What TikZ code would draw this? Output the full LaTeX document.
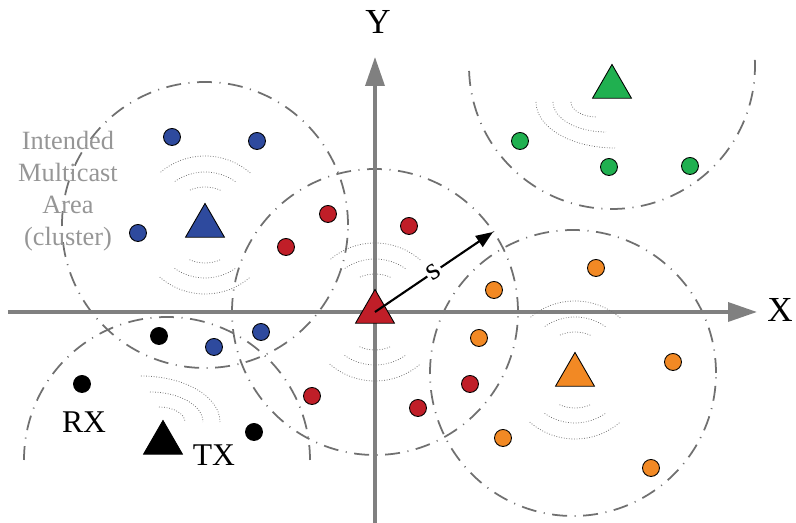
\documentclass[tikz,border=0pt]{standalone}
\usepackage{fontspec}
\setmainfont{Liberation Serif}
\usepackage{xcolor}
\usetikzlibrary{arrows.meta, shapes.geometric}
\definecolor{mcBlue}{RGB}{46,74,158}
\definecolor{mcRed}{RGB}{192,30,40}
\definecolor{mcOrange}{RGB}{242,137,36}
\definecolor{mcGreen}{RGB}{32,176,80}
\definecolor{axisGray}{RGB}{128,128,128}
\definecolor{areaGray}{RGB}{112,112,112}
\definecolor{textGray}{RGB}{150,150,150}

\begin{document}
\begin{tikzpicture}[
    x=0.02cm, y=0.02cm,
    axis/.style={draw=axisGray, line width=2pt, -{Triangle[length=0.58cm, width=0.38cm]}},
    cluster/.style={draw=areaGray, line width=1pt, dash pattern=on 8.5pt off 4.3pt on 0.6pt off 4.3pt},
    wave/.style={draw=black!55, line width=0.45pt, densely dotted},
    tx/.style={regular polygon, regular polygon sides=3, minimum size=0.9cm, inner sep=0pt, draw=black, line width=0.5pt},
    rx/.style={circle, minimum size=0.34cm, inner sep=0pt, draw=black, line width=0.5pt},
    sarrow/.style={-{Triangle[length=0.34cm, width=0.26cm]}, line width=1.2pt},
    lbl/.style={font=\fontsize{18}{20}\selectfont}
]
\useasboundingbox (-375,-211) rectangle (421,312);

% Cluster areas
\draw[cluster] (-170,87) circle[radius=143];
\draw[cluster] (0,0) circle[radius=143];
\draw[cluster] (198,-61) circle[radius=143];
\draw[cluster] (237,246) ++(182:143) arc[start angle=182, end angle=363, radius=143];
\draw[cluster] (-208,-148) ++(0:143) arc[start angle=0, end angle=180, radius=143];

% Axes
\coordinate (xStart) at (-367,0);
\coordinate (xEnd) at (382,0);
\coordinate (yStart) at (0,-211);
\coordinate (yEnd) at (0,255);
\draw[axis] (xStart) -- (xEnd);
\draw[axis] (yStart) -- (yEnd);
\node[font=\fontsize{20}{22}\selectfont] (xLabel) at (405,2) {X};
\node[font=\fontsize{20}{22}\selectfont] (yLabel) at (3,290) {Y};

% Waves
\foreach \c in {(-170,87), (0,0), (200,-58)} {
  \foreach \r/\a in {38/24, 53/35, 69/41} {
    \draw[wave] \c ++(90-\a:\r) arc[start angle=90-\a, end angle=90+\a, radius=\r];
    \draw[wave] \c ++(270-\a:\r) arc[start angle=270-\a, end angle=270+\a, radius=\r];
  }
}
\foreach \dx/\rx/\ry in {0/79/46, 9/53/30, 18/26/15} {
  \draw[wave] (240-\dx-\rx,210) arc[start angle=180, end angle=270, x radius=\rx, y radius=\ry];
  \draw[wave] (-234+\dx,-110+\ry) arc[start angle=90, end angle=0, x radius=\rx, y radius=\ry];
}

% Receivers
\foreach \p [count=\i] in {(-203,175), (-118,171), (-237,79), (-161,-35), (-114,-20)}
  \node[rx, fill=mcBlue] (blue\i) at \p {};
\foreach \p [count=\i] in {(-47,98), (-89,65), (34,86), (-63,-84), (43,-96), (95,-72)}
  \node[rx, fill=mcRed] (red\i) at \p {};
\foreach \p [count=\i] in {(221,44), (119,22), (104,-26), (298,-50), (128,-126), (276,-156)}
  \node[rx, fill=mcOrange] (orange\i) at \p {};
\foreach \p [count=\i] in {(145,171), (234,145), (315,146)}
  \node[rx, fill=mcGreen] (green\i) at \p {};
\foreach \p [count=\i] in {(-216,-24), (-293,-72), (-121,-120)}
  \node[rx, fill=black] (black\i) at \p {};

% Transmitters
\node[tx, fill=mcBlue] (txBlue) at (-170,86) {};
\node[tx, fill=mcRed] (txRed) at (0,0) {};
\node[tx, fill=mcOrange] (txOrange) at (200,-63) {};
\node[tx, fill=mcGreen] (txGreen) at (237,225) {};
\node[tx, fill=black] (txBlack) at (-212,-131) {};

% Labels
\node[lbl] (rxLabel) at (-291,-110) {RX};
\node[lbl] (txLabel) at (-161,-143) {TX};
\node[align=center, text=textGray, font=\fontsize{15}{18.2}\selectfont] (areaLabel) at (-307,121) {Intended\\Multicast\\Area\\(cluster)};

% Radius
\coordinate (sEnd) at (118,80);
\draw[sarrow] (txRed.center) -- node[sloped, fill=white, inner sep=1pt, font=\fontsize{18}{20}\selectfont] {s} (sEnd);
\end{tikzpicture}
\end{document}
